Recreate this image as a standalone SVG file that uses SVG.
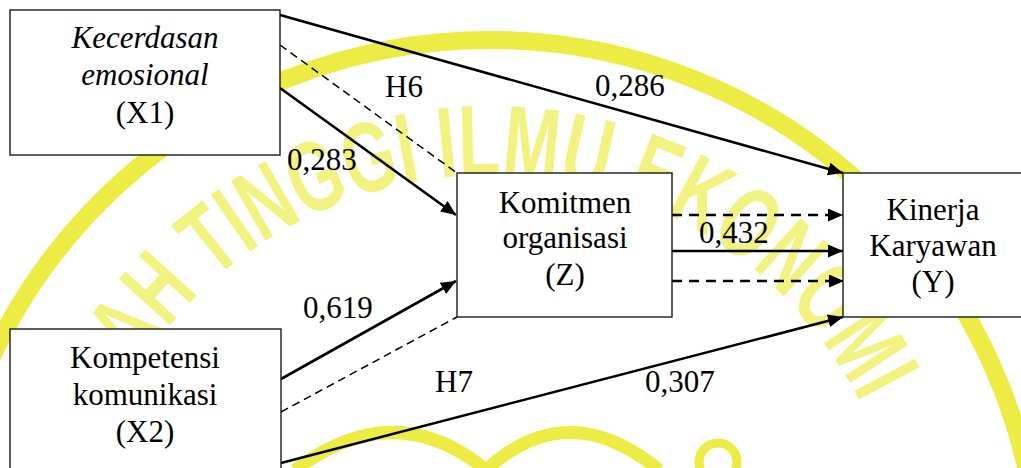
<svg xmlns="http://www.w3.org/2000/svg" width="1021" height="468" viewBox="0 0 1021 468">
  <style>
    .box { fill: #ffffff; stroke: #1a1a1a; stroke-width: 1.4; }
    .t { font-family: 'Liberation Serif', 'Times New Roman', serif; font-size: 31px; fill: #000; }
    .tc { text-anchor: middle; }
    .it { font-style: italic; }
    .solid { stroke: #000; stroke-width: 2.6; fill: none; }
    .dash { stroke: #000; stroke-width: 1.5; fill: none; stroke-dasharray: 8 5; }
    .hdash { stroke: #000; stroke-width: 2.6; fill: none; stroke-dasharray: 10 7; }
    .wm { fill: none; stroke: #ecec44; }
    .wmt { font-family: 'Liberation Sans', Arial, sans-serif; font-weight: bold; font-size: 100px; fill: #eeee55; fill-opacity: 0.75; }
  </style>
  <defs>
    <marker id="arr" markerUnits="userSpaceOnUse" markerWidth="16" markerHeight="14" refX="15" refY="6.5" orient="auto">
      <path d="M0,0 L15,6.5 L0,13 z" fill="#000"/>
    </marker>
    <path id="ringText" d="M 75,590 A 415 415 0 0 1 905,590"/>
  </defs>

  <rect width="1021" height="468" fill="#ffffff"/>

  <g id="watermark">
    <circle class="wm" cx="490" cy="590" r="550" stroke-width="18"/>
    <text class="wmt"><textPath href="#ringText" textLength="1110" lengthAdjust="spacingAndGlyphs">SEKOLAH TINGGI ILMU EKONOMI</textPath></text>
    <path class="wm" stroke-width="13" d="M 295,470 Q 395,395 486,470"/>
    <path class="wm" stroke-width="13" d="M 486,470 Q 568,395 659,470"/>
    <circle class="wm" cx="718" cy="462" r="19" stroke-width="9"/>
  </g>

  <g id="connectors">
    <line class="solid" x1="280" y1="15" x2="843" y2="173" marker-end="url(#arr)"/>
    <line class="dash" x1="280" y1="45" x2="457" y2="173"/>
    <line class="solid" x1="280" y1="88" x2="456" y2="215" marker-end="url(#arr)"/>
    <line class="solid" x1="281" y1="379" x2="456" y2="281" marker-end="url(#arr)"/>
    <line class="dash" x1="281" y1="412" x2="457" y2="317"/>
    <line class="solid" x1="281" y1="463" x2="843" y2="317" marker-end="url(#arr)"/>
    <line class="hdash" x1="672" y1="215" x2="843" y2="215" marker-end="url(#arr)"/>
    <line class="solid" x1="672" y1="251" x2="843" y2="251" marker-end="url(#arr)"/>
    <line class="hdash" x1="672" y1="281" x2="844" y2="281" marker-end="url(#arr)"/>
  </g>

  <g id="labels">
    <text class="t" x="385" y="97">H6</text>
    <text class="t" x="595" y="96">0,286</text>
    <text class="t" x="287" y="170">0,283</text>
    <text class="t" x="303" y="318">0,619</text>
    <text class="t" x="699" y="243">0,432</text>
    <text class="t" x="435" y="392">H7</text>
    <text class="t" x="645" y="392">0,307</text>
  </g>

  <g id="node-x1">
    <rect class="box" x="10" y="10" width="270" height="145"/>
    <text class="t tc it" x="145" y="48">Kecerdasan</text>
    <text class="t tc it" x="145" y="85">emosional</text>
    <text class="t tc" x="145" y="123">(X1)</text>
  </g>

  <g id="node-z">
    <rect class="box" x="457" y="173" width="215" height="144"/>
    <text class="t tc" x="565" y="213">Komitmen</text>
    <text class="t tc" x="565" y="248">organisasi</text>
    <text class="t tc" x="565" y="285">(Z)</text>
  </g>

  <g id="node-y">
    <rect class="box" x="843" y="173" width="182" height="144"/>
    <text class="t tc" x="933" y="220">Kinerja</text>
    <text class="t tc" x="933" y="256">Karyawan</text>
    <text class="t tc" x="933" y="292">(Y)</text>
  </g>

  <g id="node-x2">
    <rect class="box" x="10" y="329" width="271" height="145"/>
    <text class="t tc" x="145" y="368">Kompetensi</text>
    <text class="t tc" x="145" y="405">komunikasi</text>
    <text class="t tc" x="145" y="442">(X2)</text>
  </g>
</svg>
